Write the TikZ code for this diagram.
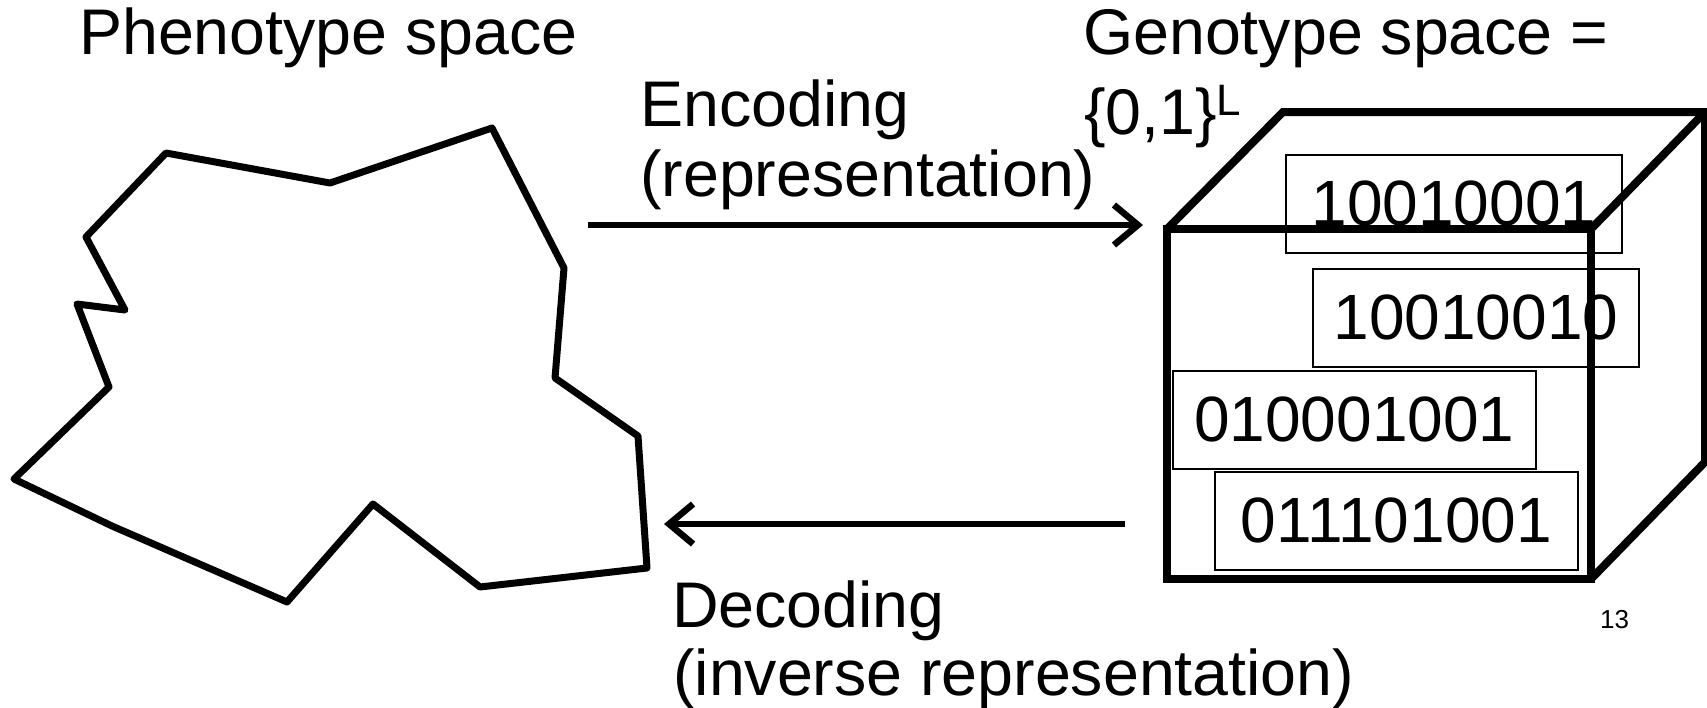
\documentclass[tikz,border=0pt]{standalone}
\usepackage{fontspec}
\setmainfont{Liberation Sans}
\usetikzlibrary{arrows.meta}

\begin{document}
\begin{tikzpicture}[x=1pt, y=-1pt, >={Straight Barb[length=24pt,width=40pt]},
                    bigtext/.style={anchor=base west, inner sep=0pt, font=\fontsize{64.5}{77}\selectfont},
                    genebox/.style={draw, line width=1.8pt, anchor=north west, inner sep=0pt,
                                    minimum height=98pt, font=\fontsize{64}{77}\selectfont},
                    outline/.style={line width=7pt, line join=round},
                    cubeline/.style={line width=8pt},
                    maparrow/.style={->, line width=6.5pt}]
                    % Frame
                    \useasboundingbox (0,0) rectangle (1707,707);

                    % Titles
                    \node[bigtext] (pheno) at (79,54) {Phenotype space};
                    \node[bigtext] (geno) at (1083,54) {Genotype space =};
                    \node[bigtext] (genoset) at (1084,134) {\{0,1\}\raisebox{19pt}{\fontsize{44}{52}\selectfont L}};

                    % Phenotype shape
                    \draw[outline] (166,153) -- (330,183) -- (492,128) -- (564,268) -- (555,378)
                        -- (638,436) -- (647,568) -- (480,587) -- (373,504) -- (287,602)
                        -- (112,526) -- (14,479) -- (109,387) -- (77,304) -- (125,310)
                        -- (86,237) -- cycle;

                    % Genotype strings
                    \node[genebox, minimum width=336pt] (g1) at (1285,154) {10010001};
                    \node[genebox, minimum width=326pt] (g2) at (1312,268) {10010010};
                    \node[genebox, minimum width=363pt] (g3) at (1172,370) {010001001};
                    \node[genebox, minimum width=363pt] (g4) at (1214,471) {011101001};

                    % Cube corners
                    \coordinate (ftl) at (1167,229); \coordinate (ftr) at (1591,229);
                    \coordinate (fbl) at (1167,579); \coordinate (fbr) at (1591,579);
                    \coordinate (btl) at (1283,112); \coordinate (btr) at (1705,112);
                    \coordinate (bbr) at (1705,462);

                    % Cube
                    \draw[cubeline] (ftl) rectangle (fbr);
                    \draw[cubeline] (ftl) -- (btl) -- (btr) -- (bbr) -- (fbr);
                    \draw[cubeline] (btr) -- (ftr);

                    % Encoding
                    \coordinate (encfrom) at (588,225); \coordinate (encto) at (1143,225);
                    \draw[maparrow] (encfrom) -- (encto);
                    \node[bigtext] (enc) at (640,126) {Encoding};
                    \node[bigtext] (encrep) at (640,196) {(representation)};

                    % Decoding
                    \coordinate (decfrom) at (1125,524); \coordinate (decto) at (664,524);
                    \draw[maparrow] (decfrom) -- (decto);
                    \node[bigtext] (dec) at (672,627) {Decoding};
                    \node[bigtext] (decrep) at (673,695) {(inverse representation)};

                    % Slide number
                    \node[anchor=base west, inner sep=0pt, font=\fontsize{26}{31}\selectfont] (num) at (1600,628) {13};

                \end{tikzpicture}
\end{document}
